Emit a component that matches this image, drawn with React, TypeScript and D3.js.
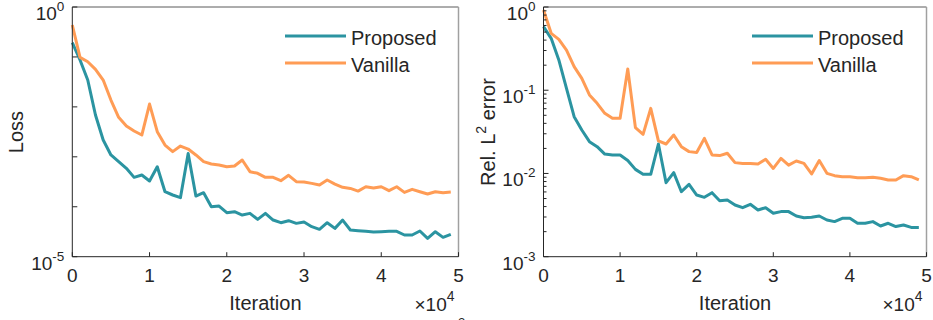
import React from "react";
import * as d3 from "d3";

const iterations: number[] = Array.from({ length: 50 }, (_, i) => i * 1000);

const lossProposed: number[] = [
  0.193, 0.0868, 0.0345, 0.00687, 0.00217, 0.00109, 0.0008, 0.000588, 0.000388, 0.000432,
  0.000328, 0.000634, 0.0002, 0.000172, 0.000152, 0.00117, 0.000164, 0.000191, 0.0001, 0.000103,
  0.0000761, 0.0000796, 0.0000683, 0.0000738, 0.000056, 0.0000738, 0.0000542, 0.000048, 0.0000526, 0.0000465,
  0.0000494, 0.0000399, 0.0000353, 0.000048, 0.0000369, 0.0000542, 0.0000342, 0.0000332, 0.0000322, 0.0000312,
  0.0000317, 0.0000322, 0.0000322, 0.0000272, 0.0000272, 0.0000327, 0.0000233, 0.0000317, 0.0000244, 0.000028,
];

const lossVanilla: number[] = [
  0.436, 0.098, 0.08, 0.0565, 0.0345, 0.0137, 0.00617, 0.00414, 0.00329, 0.00273,
  0.0114, 0.00319, 0.00172, 0.00127, 0.00164, 0.00143, 0.00109, 0.0008, 0.00072, 0.000686,
  0.000634, 0.000654, 0.000863, 0.000504, 0.000467, 0.000388, 0.000388, 0.000333, 0.000426, 0.000318,
  0.000313, 0.000294, 0.000272, 0.000343, 0.000285, 0.000245, 0.000233, 0.000206, 0.000252, 0.000237,
  0.000252, 0.00021, 0.000252, 0.000194, 0.000223, 0.0002, 0.00018, 0.0002, 0.000191, 0.000197,
];

const errProposed: number[] = [
  0.58, 0.42, 0.231, 0.1054, 0.0481, 0.0333, 0.0241, 0.021, 0.0171, 0.0167,
  0.0167, 0.0143, 0.0112, 0.00977, 0.00977, 0.0226, 0.00775, 0.01023, 0.00604, 0.0074,
  0.00551, 0.00517, 0.00588, 0.00471, 0.0048, 0.00418, 0.00388, 0.00426, 0.00364, 0.00388,
  0.00332, 0.00348, 0.00348, 0.00308, 0.00294, 0.00297, 0.00308, 0.00276, 0.00264, 0.00289,
  0.00289, 0.00252, 0.00252, 0.00264, 0.00234, 0.00252, 0.0023, 0.0024, 0.00225, 0.00225,
];

const errVanilla: number[] = [
  0.92, 0.483, 0.409, 0.304, 0.192, 0.139, 0.0877, 0.0696, 0.0528, 0.046,
  0.046, 0.18, 0.0355, 0.0295, 0.0606, 0.0246, 0.0226, 0.029, 0.021, 0.0183,
  0.0179, 0.0264, 0.0167, 0.0164, 0.0175, 0.0135, 0.0132, 0.0132, 0.013, 0.0148,
  0.0115, 0.0152, 0.0126, 0.0141, 0.0132, 0.00986, 0.0143, 0.01004, 0.00941, 0.00916,
  0.00916, 0.00891, 0.00891, 0.00899, 0.00874, 0.00835, 0.00835, 0.00941, 0.00916, 0.00835,
];

const xTicks: number[] = [0, 1, 2, 3, 4, 5];
const seriesNames: string[] = ["Proposed", "Vanilla"];
const seriesColors: string[] = ["#2b94a1", "#ff9c55"];

const FONT = "'Liberation Sans', Arial, Helvetica, sans-serif";
const AXIS = "#262626";

type PanelProps = {
  x0: number;
  x1: number;
  yTop: number;
  yBot: number;
  yMinExp: number;
  yLabelExps: number[];
  minor: boolean;
  proposed: number[];
  vanilla: number[];
  yLabel: React.ReactNode;
  yLabelX: number;
  legendX: number;
};

function Panel(p: PanelProps) {
  const x = d3.scaleLinear().domain([0, 50000]).range([p.x0, p.x1]);
  const y = d3
    .scaleLog()
    .domain([Math.pow(10, p.yMinExp), 1])
    .range([p.yBot, p.yTop]);
  const line = d3
    .line<number>()
    .x((_, i) => x(iterations[i]))
    .y((d) => y(d));

  const majorExps = d3.range(p.yMinExp, 1);
  const minorVals: number[] = [];
  if (p.minor) {
    for (let e = p.yMinExp; e < 0; e++) {
      for (let k = 2; k <= 9; k++) minorVals.push(k * Math.pow(10, e));
    }
  }
  const data = [p.proposed, p.vanilla];
  const cx = (p.x0 + p.x1) / 2;

  return (
    <g fontFamily={FONT} fill={AXIS}>
      <line x1={p.x0} x2={p.x1} y1={p.yTop} y2={p.yTop} stroke="#5a5a5a" strokeWidth={1} />
      <line x1={p.x1} x2={p.x1} y1={p.yTop} y2={p.yBot} stroke="#a0a0a0" strokeWidth={1.5} />
      {data.map((d, si) => (
        <path
          key={si}
          d={line(d) || ""}
          fill="none"
          stroke={seriesColors[si]}
          strokeWidth={3}
          strokeLinejoin="round"
        />
      ))}
      <line x1={p.x0} x2={p.x0} y1={p.yTop} y2={p.yBot} stroke={AXIS} strokeWidth={1} />
      <line x1={p.x0} x2={p.x1} y1={p.yBot} y2={p.yBot} stroke={AXIS} strokeWidth={1} />
      {xTicks.map((t) => (
        <g key={t}>
          <line x1={x(t * 1e4)} x2={x(t * 1e4)} y1={p.yBot} y2={p.yBot - 4.5} stroke={AXIS} />
          <text x={x(t * 1e4)} y={282} textAnchor="middle" fontSize={19}>
            {t}
          </text>
        </g>
      ))}
      {majorExps.map((e) => (
        <line key={e} x1={p.x0} x2={p.x0 + 5} y1={y(Math.pow(10, e))} y2={y(Math.pow(10, e))} stroke={AXIS} />
      ))}
      {minorVals.map((v, i) => (
        <line key={i} x1={p.x0} x2={p.x0 + 3} y1={y(v)} y2={y(v)} stroke={AXIS} />
      ))}
      {p.yLabelExps.map((e) => (
        <text key={e} x={p.x0 - 8} y={y(Math.pow(10, e)) + 13} textAnchor="end" fontSize={19}>
          <tspan>10</tspan>
          <tspan dy={-9} fontSize={13.5}>
            {e === 0 ? "0" : "-" + Math.abs(e)}
          </tspan>
        </text>
      ))}
      <text x={cx} y={310} textAnchor="middle" fontSize={20}>
        Iteration
      </text>
      <text x={p.x1 - 44} y={311} fontSize={19}>
        <tspan>×10</tspan>
        <tspan dy={-10} fontSize={14}>4</tspan>
      </text>
      <g transform={`translate(${p.yLabelX},132) rotate(-90)`}>
        <text x={0} y={0} textAnchor="middle" fontSize={20}>
          {p.yLabel}
        </text>
      </g>
      {seriesNames.map((n, si) => (
        <g key={n}>
          <line
            x1={p.legendX}
            x2={p.legendX + 61}
            y1={36 + si * 27}
            y2={36 + si * 27}
            stroke={seriesColors[si]}
            strokeWidth={3}
          />
          <text x={p.legendX + 66} y={45 + si * 27} fontSize={20}>
            {n}
          </text>
        </g>
      ))}
    </g>
  );
}

export default function App() {
  return (
    <div style={{ position: "fixed", left: 0, top: 0 }}>
      <svg width={933} height={320} style={{ display: "block", background: "#fff" }}>
        <rect x={0} y={0} width={933} height={320} fill="#fff" />
        <Panel
          x0={72.3}
          x1={458.5}
          yTop={7}
          yBot={256.7}
          yMinExp={-5}
          yLabelExps={[0, -5]}
          minor={false}
          proposed={lossProposed}
          vanilla={lossVanilla}
          yLabel="Loss"
          yLabelX={23}
          legendX={285}
        />
        <Panel
          x0={543.5}
          x1={926.5}
          yTop={7}
          yBot={256.7}
          yMinExp={-3}
          yLabelExps={[0, -1, -2, -3]}
          minor={true}
          proposed={errProposed}
          vanilla={errVanilla}
          yLabel={
            <>
              <tspan>Rel. L</tspan>
              <tspan dy={-9} fontSize={14}>2</tspan>
              <tspan dy={9}> error</tspan>
            </>
          }
          yLabelX={495}
          legendX={752}
        />
        <text x={458} y={327} fontSize={13} fontFamily={FONT} fill={AXIS}>
          2
        </text>
      </svg>
    </div>
  );
}
